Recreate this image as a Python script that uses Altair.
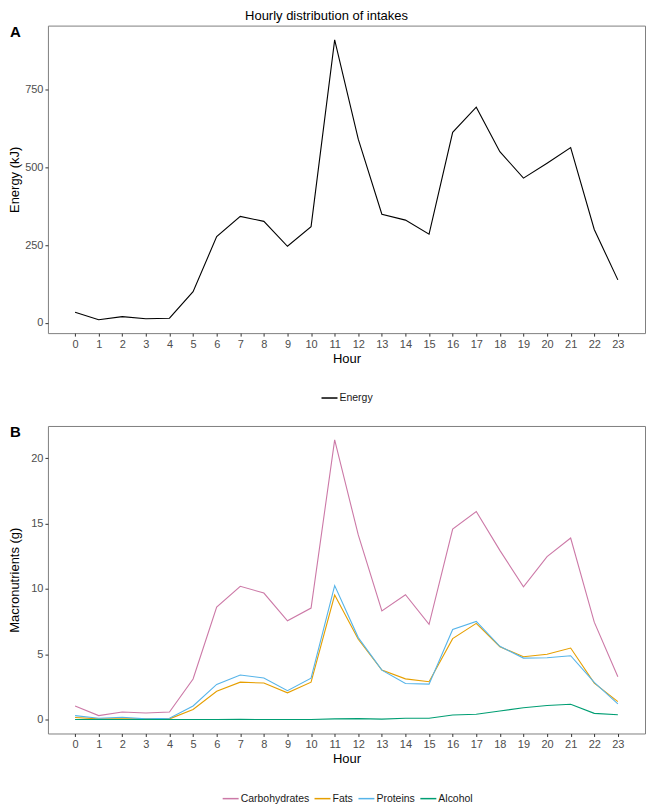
import altair as alt
import pandas as pd

FONT = "Liberation Sans"

hours = list(range(24))
energy = [34, 10, 20, 13, 15, 100, 277, 342, 326, 246, 309, 909, 590, 349,
          330, 285, 612, 693, 550, 465, 513, 563, 300, 138]
carbohydrates = [1.04, 0.30, 0.57, 0.50, 0.57, 3.10, 8.60, 10.20, 9.68, 7.56, 8.53, 21.40,
                 14.13, 8.31, 9.55, 7.29, 14.58, 15.92, 12.95, 10.16, 12.47, 13.89, 7.45, 3.28]
fats = [0.15, 0.05, 0.05, 0.05, 0.05, 0.77, 2.16, 2.86, 2.79, 2.04, 2.86, 9.53,
        6.14, 3.78, 3.11, 2.89, 6.19, 7.36, 5.57, 4.80, 5.00, 5.47, 2.79, 1.37]
proteins = [0.30, 0.10, 0.17, 0.05, 0.10, 1.04, 2.69, 3.41, 3.18, 2.21, 3.16, 10.25,
            6.27, 3.78, 2.76, 2.71, 6.89, 7.51, 5.60, 4.70, 4.73, 4.88, 2.84, 1.19]
alcohol = [0.00, 0.00, 0.00, 0.00, 0.00, 0.00, 0.00, 0.01, 0.00, 0.00, 0.00, 0.05,
           0.07, 0.03, 0.10, 0.10, 0.35, 0.40, 0.65, 0.90, 1.07, 1.17, 0.47, 0.37]

macro_names = ["Carbohydrates", "Fats", "Proteins", "Alcohol"]
macro_colors = ["#CC79A7", "#E69F00", "#56B4E9", "#009E73"]
title_text = "Hourly distribution of intakes"

dfA = pd.DataFrame({"Hour": hours, "Energy": energy, "series": ["Energy"] * 24})
rows = []
for name, vals in zip(macro_names, [carbohydrates, fats, proteins, alcohol]):
    for h, v in zip(hours, vals):
        rows.append({"Hour": h, "value": v, "series": name})
dfB = pd.DataFrame(rows)

W, H = 598, 308

x_scale = alt.Scale(domain=[-1.15, 24.15], nice=False, zero=False)


def x_enc():
    return alt.X("Hour:Q", scale=x_scale,
                 axis=alt.Axis(values=hours, title="Hour", format="d", titlePadding=3))


lineA = alt.Chart(dfA).mark_line(strokeWidth=1.1).encode(
    x=x_enc(),
    y=alt.Y("Energy:Q", scale=alt.Scale(domain=[-33, 955], nice=False, zero=False),
            axis=alt.Axis(values=[0, 250, 500, 750], format="d", title="Energy (kJ)",
                          titlePadding=3)),
    color=alt.Color("series:N", scale=alt.Scale(domain=["Energy"], range=["black"]),
                    legend=alt.Legend(title=None, orient="none", direction="horizontal",
                                      legendX=(W - 52) / 2, legendY=H + 56)),
)
labA = alt.Chart(pd.DataFrame({"t": ["A"]})).mark_text(
    align="left", baseline="middle", fontWeight="bold", fontSize=15, font=FONT, color="black"
).encode(x=alt.value(-38), y=alt.value(6), text="t:N")
titleA = alt.Chart(pd.DataFrame({"t": [title_text]})).mark_text(
    align="center", baseline="middle", fontSize=13, font=FONT, color="black"
).encode(x=alt.value(279), y=alt.value(-10), text="t:N")
panelA = alt.layer(lineA, labA, titleA).properties(width=W, height=H)

lineB = alt.Chart(dfB).mark_line(strokeWidth=1.1).encode(
    x=x_enc(),
    y=alt.Y("value:Q", scale=alt.Scale(domain=[-1.07, 22.47], nice=False, zero=False),
            axis=alt.Axis(values=[0, 5, 10, 15, 20], format="d", title="Macronutrients (g)",
                          titlePadding=9)),
    color=alt.Color("series:N", sort=macro_names,
                    scale=alt.Scale(domain=macro_names, range=macro_colors),
                    legend=alt.Legend(title=None, orient="none", direction="horizontal",
                                      legendX=(W - 250) / 2, legendY=H + 56)),
)
labB = alt.Chart(pd.DataFrame({"t": ["B"]})).mark_text(
    align="left", baseline="middle", fontWeight="bold", fontSize=15, font=FONT, color="black"
).encode(x=alt.value(-38), y=alt.value(6), text="t:N")
panelB = alt.layer(lineB, labB).properties(width=W, height=H)

chart = alt.vconcat(panelA, panelB, spacing=19).resolve_scale(
    color="independent"
).resolve_legend(color="independent").properties(
    padding={"left": 0, "top": 0, "right": 0, "bottom": 0},
).configure(font=FONT).configure_view(
    stroke="#7f7f7f", strokeWidth=1
).configure_axis(
    grid=False, domain=False, labelFont=FONT, titleFont=FONT, labelFontSize=11,
    labelColor="#4d4d4d", titleFontSize=13, titleColor="black", titleFontWeight="normal",
    tickColor="#333333", tickSize=3, labelPadding=2,
).configure_legend(
    labelFont=FONT, labelFontSize=10.5, labelColor="#1a1a1a", symbolType="stroke",
    symbolSize=256, symbolStrokeWidth=1.5, labelOffset=1, columnPadding=2,
    padding=0,
)

chart.save("out.html", embed_options={"renderer": "svg", "actions": False})
